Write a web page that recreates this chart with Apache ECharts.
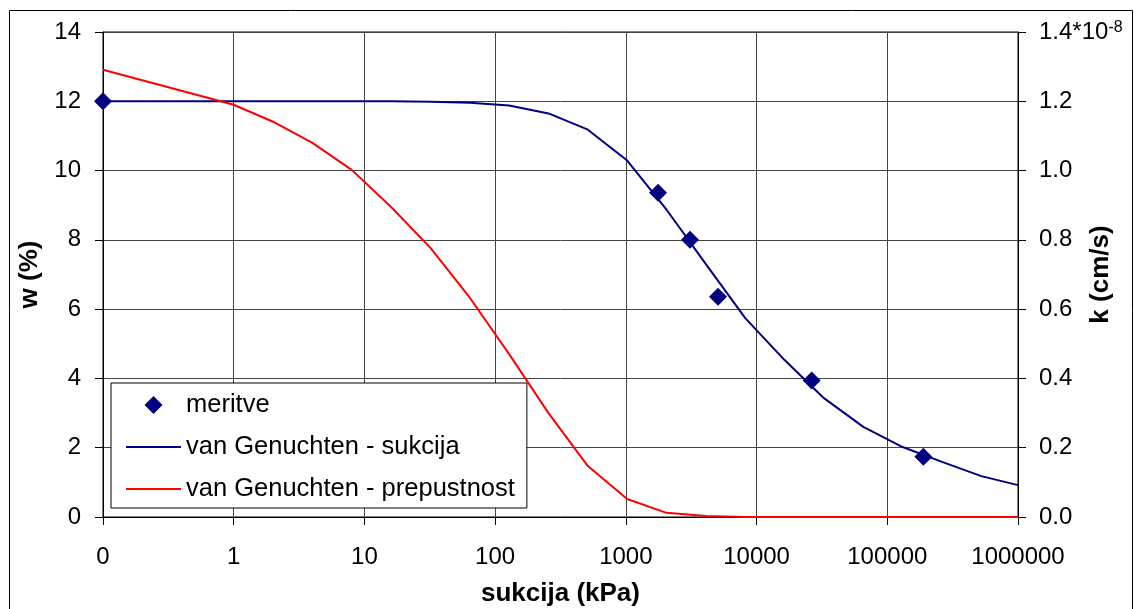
<!DOCTYPE html>
<html>
<head>
<meta charset="utf-8">
<script src="https://cdn.jsdelivr.net/npm/echarts@6/dist/echarts.min.js"></script>
<style>
html,body{margin:0;padding:0;background:#fff;}
#chart{width:1134px;height:609px;}
</style>
</head>
<body>
<div id="chart"></div>
<script>
// suction (kPa) for the van Genuchten curves
const suction = [0.1, 1, 2, 4, 8, 16, 32, 64, 128, 256, 512, 1024, 2048, 4096, 8192, 16384, 32768, 65536, 131072, 262144, 524288, 1000000];
// water content w (%) - van Genuchten suction curve
const wCurve = [12.0, 12.0, 12.0, 12.0, 12.0, 12.0, 11.99, 11.96, 11.88, 11.65, 11.18, 10.29, 8.87, 7.3, 5.74, 4.53, 3.43, 2.6, 2.02, 1.59, 1.18, 0.92];
// permeability k (x1e-8 cm/s) - van Genuchten permeability curve
const kCurve = [1.291, 1.19, 1.141, 1.08, 1.002, 0.895, 0.777, 0.633, 0.47, 0.30, 0.147, 0.052, 0.012, 0.003, 0, 0, 0, 0, 0, 0, 0, 0];
// measurements
const measSuction = [0.1, 1763, 3097, 5070, 26400, 188800];
const measW = [12.0, 9.36, 8.0, 6.36, 3.94, 1.74];
// labels
const seriesNames = ['meritve', 'van Genuchten - sukcija', 'van Genuchten - prepustnost'];
const xTitle = 'sukcija (kPa)';
const yLeftTitle = 'w (%)';
const yRightTitle = 'k (cm/s)';

const FONT = 'Liberation Sans';
const chart = echarts.init(document.getElementById('chart'), null, {renderer: 'canvas'});

const zip = (xs, ys) => xs.map((x, i) => [x, ys[i]]);

// legend icons: a diamond centred in a wide box, and a thin line
const diamondIcon = 'path://M0,0 L0,0 M55,18 L55,18 M18.5,9 L27.5,0 L36.5,9 L27.5,18 Z';
const lineIcon = 'path://M0,0 L55,0 L55,2 L0,2 Z';

chart.setOption({
  backgroundColor: '#fff',
  animation: false,
  textStyle: {fontFamily: FONT},
  graphic: [{
    type: 'rect', silent: true, z: -10,
    shape: {x: 9.5, y: 10.5, width: 1123, height: 620},
    style: {fill: 'none', stroke: '#000', lineWidth: 1}
  }],
  grid: {left: 103, right: 116, top: 32, bottom: 92, outerBoundsMode: 'none', containLabel: false,
    show: true, borderColor: '#000', borderWidth: 1, backgroundColor: 'transparent'},
  legend: {
    orient: 'vertical', left: 111, top: 383,
    padding: [9, 12, 6, 15], itemGap: 16,
    itemWidth: 55, itemHeight: 18, symbolKeepAspect: true,
    backgroundColor: '#fff', borderColor: '#000', borderWidth: 1,
    textStyle: {fontFamily: FONT, fontSize: 25.5, color: '#000', lineHeight: 20},
    data: [
      {name: seriesNames[0], icon: diamondIcon},
      {name: seriesNames[1], icon: lineIcon},
      {name: seriesNames[2], icon: lineIcon}
    ]
  },
  xAxis: {
    type: 'log', logBase: 10, min: 0.1, max: 1000000, splitNumber: 7,
    name: xTitle, nameLocation: 'middle', nameGap: 64, nameMoveOverlap: false,
    nameTextStyle: {fontFamily: FONT, fontSize: 26, fontWeight: 'bold', color: '#000'},
    axisLine: {show: true, lineStyle: {color: '#000', width: 1}},
    axisTick: {show: true, length: 8, inside: false, lineStyle: {color: '#000'}},
    minorTick: {show: false},
    axisLabel: {fontFamily: FONT, fontSize: 24, color: '#000', margin: 28, hideOverlap: false,
      formatter: v => v < 1 ? '0' : String(Math.round(v))},
    splitLine: {show: true, lineStyle: {color: '#444', width: 1}}
  },
  yAxis: [{
    type: 'value', min: 0, max: 14, interval: 2, position: 'left',
    name: yLeftTitle, nameLocation: 'middle', nameGap: 60, nameRotate: 90, nameMoveOverlap: false,
    nameTextStyle: {fontFamily: FONT, fontSize: 26, fontWeight: 'bold', color: '#000'},
    axisLine: {show: true, lineStyle: {color: '#000', width: 1}},
    axisTick: {show: true, length: 8, lineStyle: {color: '#000'}},
    axisLabel: {fontFamily: FONT, fontSize: 24, color: '#000', margin: 22},
    splitLine: {show: true, lineStyle: {color: '#444', width: 1}}
  }, {
    type: 'value', min: 0, max: 1.4, interval: 0.2, position: 'right',
    name: yRightTitle, nameLocation: 'middle', nameGap: 70, nameRotate: 90, nameMoveOverlap: false,
    nameTextStyle: {fontFamily: FONT, fontSize: 26, fontWeight: 'bold', color: '#000'},
    axisLine: {show: true, lineStyle: {color: '#000', width: 1}},
    axisTick: {show: true, length: 8, lineStyle: {color: '#000'}},
    axisLabel: {fontFamily: FONT, fontSize: 24, color: '#000', margin: 21,
      formatter: v => Math.abs(v - 1.4) < 1e-9 ? '1.4*10{sup|-8}' : v.toFixed(1),
      rich: {sup: {fontFamily: FONT, fontSize: 16, color: '#000', verticalAlign: 'top', lineHeight: 16}}
    },
    splitLine: {show: false}
  }],
  series: [{
    name: seriesNames[1], type: 'line', xAxisIndex: 0, yAxisIndex: 0,
    data: zip(suction, wCurve), symbol: 'none', showSymbol: false, smooth: false,
    lineStyle: {color: '#000080', width: 2}, itemStyle: {color: '#000080'}, z: 3
  }, {
    name: seriesNames[2], type: 'line', xAxisIndex: 0, yAxisIndex: 1,
    data: zip(suction, kCurve), symbol: 'none', showSymbol: false, smooth: false,
    lineStyle: {color: '#ff0000', width: 2}, itemStyle: {color: '#ff0000'}, z: 3
  }, {
    name: seriesNames[0], type: 'scatter', xAxisIndex: 0, yAxisIndex: 0,
    data: zip(measSuction, measW), symbol: 'diamond', symbolSize: 18,
    itemStyle: {color: '#000080', opacity: 1}, z: 5
  }]
});
</script>
</body>
</html>
